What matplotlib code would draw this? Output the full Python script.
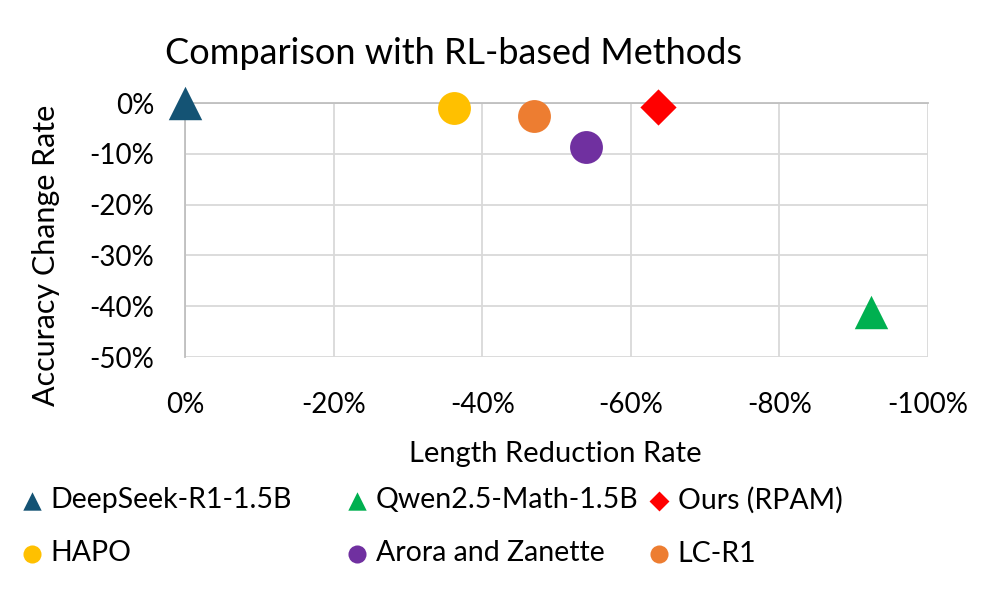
import matplotlib.pyplot as plt
from matplotlib.ticker import FuncFormatter

plt.rcParams['font.family'] = ['Lato', 'DejaVu Sans']

# data (percent)
methods = ['DeepSeek-R1-1.5B', 'HAPO', 'Qwen2.5-Math-1.5B', 'Arora and Zanette', 'Ours (RPAM)', 'LC-R1']
length_rate = [0.0, -36.2, -92.3, -54.0, -63.6, -47.0]
acc_rate = [0.0, -1.0, -41.2, -8.6, -0.8, -2.6]
colors = ['#145374', '#FFC000', '#00B050', '#7030A0', '#FF0000', '#ED7D31']
markers = ['^', 'o', '^', 'o', 'D', 'o']
sizes = [580, 560, 580, 560, 340, 560]

fig = plt.figure(figsize=(9.95, 6.13), dpi=100)
ax = fig.add_axes([185 / 995, 1 - 357 / 613, (928 - 185) / 995, (357 - 103) / 613])

pts = []
for name, x, y, c, m, s in zip(methods, length_rate, acc_rate, colors, markers, sizes):
    p = ax.scatter(x, y, s=s, c=c, marker=m, label=name, clip_on=False, zorder=3, linewidths=0)
    pts.append(p)

ax.set_xlim(0, -100)
ax.set_ylim(-50, 0)
ax.set_xticks(range(0, -101, -20))
ax.set_yticks(range(0, -51, -10))
# plain hyphen like Excel, not the unicode minus
pct = FuncFormatter(lambda v, pos: '%d%%' % round(v))
ax.xaxis.set_major_formatter(pct)
ax.yaxis.set_major_formatter(pct)
ax.grid(True, color='#D9D9D9', linewidth=1.3)
ax.set_axisbelow(True)
# horizontal axis crosses at 0 (top), vertical axis at 0 (left)
for side in ['bottom', 'right']:
    ax.spines[side].set_visible(False)
for side in ['left', 'top']:
    ax.spines[side].set_color('#BFBFBF')
    ax.spines[side].set_linewidth(1.3)
ax.tick_params(length=0, labelsize=20, colors='black')
ax.tick_params(axis='x', pad=25)
ax.tick_params(axis='y', pad=22)

ax.set_xlabel('Length Reduction Rate', fontsize=21, va='center')
ax.xaxis.set_label_coords(0.499, -0.38)
ax.set_ylabel('Accuracy Change Rate', fontsize=22, va='center')
ax.yaxis.set_label_coords(-0.187, 0.40)

fig.text(165 / 995, 1 - 53 / 613, 'Comparison with RL-based Methods', fontsize=26,
         ha='left', va='center')

# legend: three columns, each a separate legend so the columns sit where Excel put them
col_x = [18, 343, 645]
for i, x0 in enumerate(col_x):
    hs = pts[2 * i:2 * i + 2]
    ls = methods[2 * i:2 * i + 2]
    fig.legend(hs, ls, loc='upper left', bbox_to_anchor=(x0 / 995, 1 - 487 / 613),
               ncol=1, frameon=False, fontsize=20.5, markerscale=0.55,
               handletextpad=0.15, labelspacing=0.95, handlelength=1.0,
               borderpad=0, borderaxespad=0)

fig.savefig('out.png', dpi=100)
